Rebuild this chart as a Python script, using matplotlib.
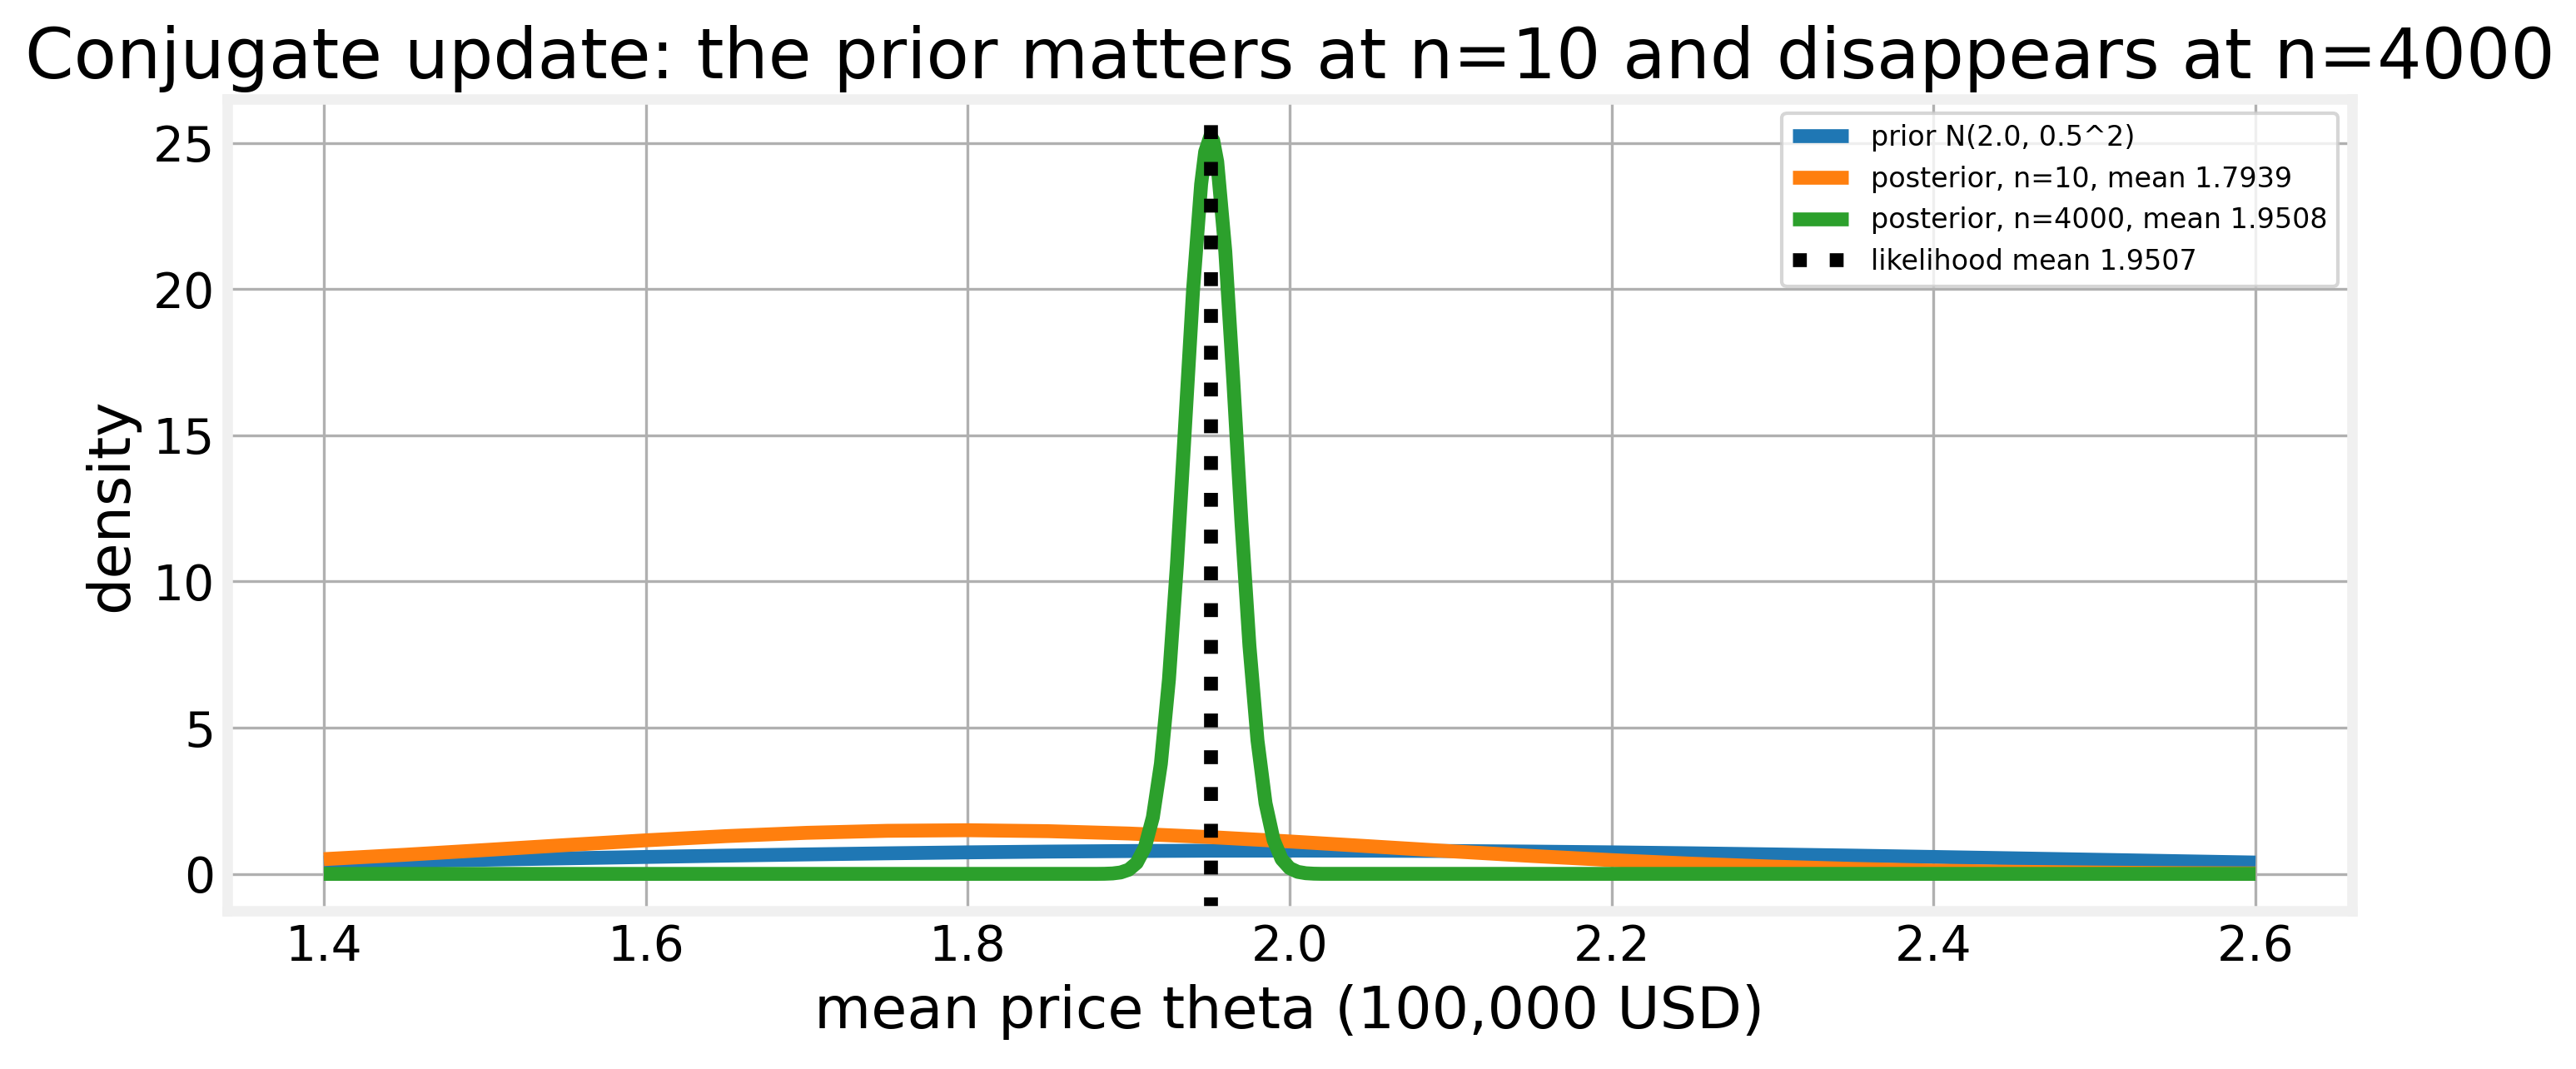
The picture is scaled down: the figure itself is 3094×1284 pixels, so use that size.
import numpy as np
import matplotlib
matplotlib.use("Agg")
import matplotlib.pyplot as plt

# densities
x_wide = [1.40, 1.45, 1.50, 1.55, 1.60, 1.65, 1.70, 1.75, 1.80, 1.85, 1.90, 1.95, 2.00,
          2.05, 2.10, 2.15, 2.20, 2.25, 2.30, 2.35, 2.40, 2.45, 2.50, 2.55, 2.60]
prior_pdf = [0.388, 0.436, 0.484, 0.532, 0.579, 0.625, 0.666, 0.704, 0.737, 0.763, 0.782, 0.794, 0.798,
             0.794, 0.782, 0.763, 0.737, 0.704, 0.666, 0.625, 0.579, 0.532, 0.484, 0.436, 0.388]
post10_pdf = [0.504, 0.653, 0.816, 0.985, 1.148, 1.292, 1.405, 1.474, 1.494, 1.461, 1.381, 1.260, 1.110,
              0.944, 0.775, 0.615, 0.471, 0.348, 0.249, 0.171, 0.114, 0.073, 0.046, 0.027, 0.016]

x_narrow = [1.40, 1.880, 1.885, 1.890, 1.895, 1.900, 1.905, 1.910, 1.915, 1.920, 1.925, 1.930,
            1.935, 1.940, 1.945, 1.9475, 1.9508, 1.9525, 1.955, 1.960, 1.965, 1.970, 1.975,
            1.980, 1.985, 1.990, 1.995, 2.000, 2.005, 2.010, 2.015, 2.020, 2.60]
post4000_pdf = [0.0, 0.001, 0.004, 0.015, 0.049, 0.143, 0.377, 0.898, 1.933, 3.771, 6.648, 10.61,
                15.30, 19.98, 23.59, 24.70, 25.24, 25.09, 24.36, 21.30, 16.85, 12.06, 7.81,
                4.57, 2.42, 1.161, 0.503, 0.197, 0.070, 0.023, 0.007, 0.002, 0.0]

lik_mean = 1.9507

plt.rcParams.update({
    "font.size": 14,
    "lines.linewidth": 4,
    "lines.solid_capstyle": "butt",
    "axes.linewidth": 3.0,
    "axes.edgecolor": "#f0f0f0",
    "axes.grid": True,
    "axes.axisbelow": True,
    "axes.titlesize": "x-large",
    "axes.labelsize": "large",
    "grid.color": "#b0b0b0",
    "grid.linewidth": 0.8,
    "xtick.major.size": 0,
    "ytick.major.size": 0,
    "legend.fancybox": True,
})

fig = plt.figure(figsize=(3094 / 300, 1284 / 300), dpi=300)
ax = fig.add_axes([0.0882, 0.148, 0.9131 - 0.0882, 0.9073 - 0.148])

ax.plot(x_wide, prior_pdf, color="#1f77b4", label="prior N(2.0, 0.5^2)")
ax.plot(x_wide, post10_pdf, color="#ff7f0e", label="posterior, n=10, mean 1.7939")
ax.plot(x_narrow, post4000_pdf, color="#2ca02c", label="posterior, n=4000, mean 1.9508")
ax.axvline(lik_mean, color="black", linestyle=":", label="likelihood mean 1.9507")

ax.set_xlabel("mean price theta (100,000 USD)")
ax.set_ylabel("density")
ax.set_title("Conjugate update: the prior matters at n=10 and disappears at n=4000")
ax.legend(loc="upper right", fontsize=8)

fig.savefig("out.png", dpi=300)
